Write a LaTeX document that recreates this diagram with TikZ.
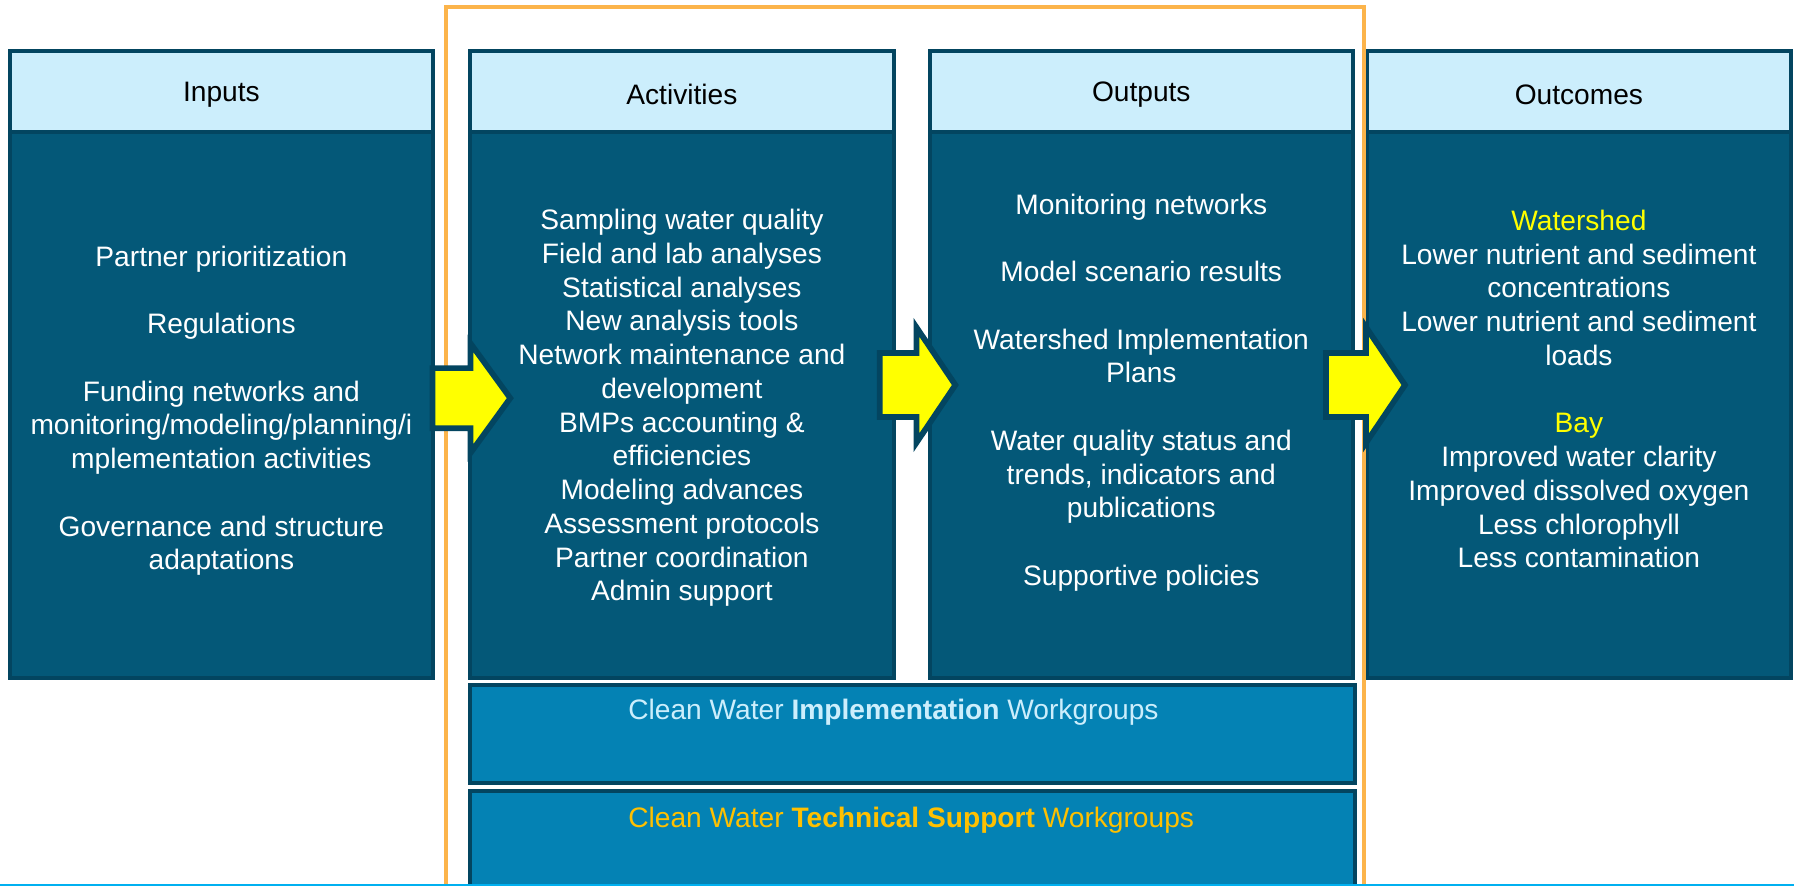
\documentclass[tikz,border=0pt]{standalone}
\usepackage{fontspec}
\setmainfont{Liberation Sans}
\usepackage{xcolor}
\usetikzlibrary{shapes.arrows}

\definecolor{edgeblue}{RGB}{3,69,96}
\definecolor{bodyblue}{RGB}{4,88,120}
\definecolor{headblue}{RGB}{204,238,252}
\definecolor{wgblue}{RGB}{4,130,180}
\definecolor{frameorange}{RGB}{252,180,75}
\definecolor{arrowyellow}{RGB}{255,255,0}
\definecolor{techgold}{RGB}{255,192,0}
\definecolor{rulecyan}{RGB}{0,176,240}

\begin{document}
\begin{tikzpicture}[x=1pt,y=-1pt,
  txt/.style={font=\fontsize{24.6}{29.5}\selectfont},
  colhead/.style={rectangle,draw=edgeblue,fill=headblue,line width=3.5pt,minimum width=370pt,minimum height=70pt,inner sep=0pt,outer sep=0pt,txt,text=black,text height=23pt},
  colbody/.style={rectangle,draw=edgeblue,fill=bodyblue,line width=3.5pt,minimum width=370pt,minimum height=478pt,inner sep=0pt,outer sep=0pt},
  bodytext/.style={txt,text=white,align=center,inner sep=0pt},
  wgbox/.style={rectangle,draw=edgeblue,fill=wgblue,line width=3.5pt,minimum width=773pt,inner sep=0pt,outer sep=0pt},
  flowarrow/.style={single arrow,draw=edgeblue,fill=arrowyellow,line width=5pt,line join=miter,single arrow tip angle=112,single arrow head extend=22.5pt,inner xsep=0pt,inner ysep=25.5pt,outer sep=0pt,anchor=tail,minimum height=66pt,minimum width=96pt}]
  \useasboundingbox (0,0) rectangle (1568,774);
  \clip (0,0) rectangle (1568,774);

  \node[colbody] (inbody) at (193.5,354) {};
  \node[colbody] (actbody) at (596,354) {};
  \node[colbody] (outbody) at (997.5,354) {};
  \node[colbody] (ocbody) at (1380,354) {};
  \node[colhead] (inhead) at (193.5,80) {Inputs};
  \node[colhead] (acthead) at (596,80) {Activities};
  \node[colhead] (outhead) at (997.5,80) {Outputs};
  \node[colhead] (ochead) at (1380,80) {Outcomes};

  \node[bodytext] (intext) at (193.5,359) {Partner prioritization\\[\baselineskip]Regulations\\[\baselineskip]Funding networks and\\monitoring/modeling/planning/i\\mplementation activities\\[\baselineskip]Governance and structure\\adaptations};
  \node[bodytext] (acttext) at (596,356.5) {Sampling water quality\\Field and lab analyses\\Statistical analyses\\New analysis tools\\Network maintenance and\\development\\BMPs accounting \&\\efficiencies\\Modeling advances\\Assessment protocols\\Partner coordination\\Admin support};
  \node[bodytext] (outtext) at (997.5,343) {Monitoring networks\\[\baselineskip]Model scenario results\\[\baselineskip]Watershed Implementation\\Plans\\[\baselineskip]Water quality status and\\trends, indicators and\\publications\\[\baselineskip]Supportive policies};
  \node[bodytext] (octext) at (1380,340) {{\color{arrowyellow}Watershed}\\Lower nutrient and sediment\\concentrations\\Lower nutrient and sediment\\loads\\[\baselineskip]{\color{arrowyellow}Bay}\\Improved water clarity\\Improved dissolved oxygen\\Less chlorophyll\\Less contamination};

  \node[wgbox,minimum height=85pt] (implwg) at (797.5,641.5) {};
  \node[wgbox,minimum height=109pt] (techwg) at (797.5,745.5) {};
  \node[txt,text=headblue,anchor=base west,inner sep=0pt] (impltext) at (549,629) {Clean Water \textbf{Implementation} Workgroups};
  \node[txt,text=techgold,anchor=base west,inner sep=0pt] (techtext) at (549,723) {Clean Water \textbf{Technical Support} Workgroups};

  \draw[frameorange,line width=3.5pt] (390,6) rectangle (1192,800);

  \node[flowarrow,minimum height=68pt,minimum width=91pt,inner ysep=23.75pt,single arrow head extend=21.7pt,single arrow tip angle=108] (arrowone) at (378,348) {};
  \node[flowarrow] (arrowtwo) at (769,336.5) {};
  \node[flowarrow,minimum height=69pt] (arrowthree) at (1159,336.5) {};

  \draw[rulecyan,line width=1.2pt] (0,773.4) -- (1568,773.4);
\end{tikzpicture}
\end{document}
